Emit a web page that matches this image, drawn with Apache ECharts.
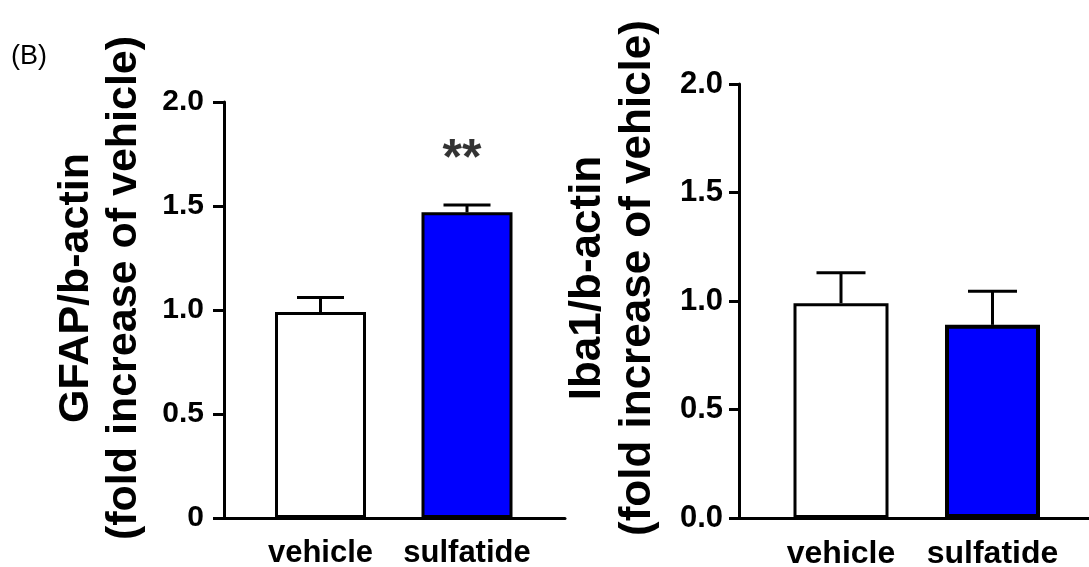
<!DOCTYPE html>
<html>
<head>
<meta charset="utf-8">
<script src="https://cdn.jsdelivr.net/npm/echarts@6/dist/echarts.min.js"></script>
<style>
    html, body { margin: 0; padding: 0; background: #ffffff; }
    #chart { width: 1089px; height: 567px; }
</style>
</head>
<body>
<div id="chart"></div>
<script>
    // data
    var categories = ['vehicle', 'sulfatide'];
    var barColors = ['#ffffff', '#0000ff'];
    var gfapMean = [0.99, 1.47];
    var gfapSem = [0.07, 0.035];
    var gfapSig = ['', '**'];
    var iba1Mean = [0.99, 0.89];
    var iba1Sem = [0.14, 0.155];
    var yMin = 0, yMax = 2, yStep = 0.5;

    var FONT = '"Liberation Sans", Arial, sans-serif';

    // error bar: whisker up from the bar top plus a cap
    function errorBar(capW) {
        return function (params, api) {
            var x = api.value(0);
            var m = api.value(1);
            var e = api.value(2);
            var p0 = api.coord([x, m]);
            var p1 = api.coord([x, m + e]);
            var st = { stroke: '#000', lineWidth: 3 };
            return {
                type: 'group',
                children: [
                    { type: 'line', shape: { x1: p0[0], y1: p0[1], x2: p1[0], y2: p1[1] }, style: st },
                    { type: 'line', shape: { x1: p1[0] - capW / 2, y1: p1[1], x2: p1[0] + capW / 2, y2: p1[1] }, style: st }
                ]
            };
        };
    }

    function barData(means, borders) {
        return means.map(function (v, i) {
            return { value: v, itemStyle: { color: barColors[i], borderColor: '#000', borderWidth: borders[i] } };
        });
    }

    var option = {
        backgroundColor: '#ffffff',
        animation: false,
        textStyle: { fontFamily: FONT },
        title: {
            text: '(B)', left: 6, top: 38,
            textStyle: { color: '#000', fontSize: 27, fontWeight: 'normal', fontFamily: FONT }
        },
        grid: [
            // axes frames
            { left: 224, right: 524, top: 102, bottom: 49, outerBoundsMode: 'none' },
            // bars
            { left: 247.25, right: 548.75, top: 102, bottom: 49, outerBoundsMode: 'none' },
            { left: 739, right: 0, top: 84, bottom: 49, outerBoundsMode: 'none' },
            { left: 765.25, right: 20.75, top: 84, bottom: 49, outerBoundsMode: 'none' }
        ],
        xAxis: [
            { gridIndex: 0, type: 'category', data: categories,
              axisLine: { lineStyle: { color: '#000', width: 3 } },
              axisTick: { show: false }, axisLabel: { show: false } },
            { gridIndex: 1, type: 'category', data: categories,
              axisLine: { show: false }, axisTick: { show: false },
              axisLabel: { interval: 0, color: '#000', fontSize: 31, fontWeight: 'bold', fontFamily: FONT, margin: 20 } },
            { gridIndex: 2, type: 'category', data: categories,
              axisLine: { lineStyle: { color: '#000', width: 3 } },
              axisTick: { show: false }, axisLabel: { show: false } },
            { gridIndex: 3, type: 'category', data: categories,
              axisLine: { show: false }, axisTick: { show: false },
              axisLabel: { interval: 0, color: '#000', fontSize: 32, fontWeight: 'bold', fontFamily: FONT, margin: 20 } }
        ],
        yAxis: [
            { gridIndex: 0, type: 'value', min: yMin, max: yMax, interval: yStep,
              name: 'GFAP/b-actin\n(fold increase of vehicle)',
              nameLocation: 'middle', nameRotate: 90, nameGap: 76,
              nameTextStyle: { color: '#000', fontSize: 43, fontWeight: 'bold', fontFamily: FONT, lineHeight: 48,
                  padding: [0, 0, 0, 44] },
              axisLine: { show: true, lineStyle: { color: '#000', width: 3 } },
              axisTick: { show: true, length: 11, lineStyle: { color: '#000', width: 3 } },
              splitLine: { show: false },
              axisLabel: { color: '#000', fontSize: 30, fontWeight: 'bold', fontFamily: FONT, margin: 20,
                  formatter: function (v) { return v === 0 ? '0' : v.toFixed(1); } } },
            { gridIndex: 1, type: 'value', min: yMin, max: yMax, interval: yStep, show: false },
            { gridIndex: 2, type: 'value', min: yMin, max: yMax, interval: yStep,
              name: 'Iba1/b-actin\n(fold increase of vehicle)',
              nameLocation: 'middle', nameRotate: 90, nameGap: 76,
              nameTextStyle: { color: '#000', fontSize: 44, fontWeight: 'bold', fontFamily: FONT, lineHeight: 50,
                  padding: [0, 0, 0, 46] },
              axisLine: { show: true, lineStyle: { color: '#000', width: 3 } },
              axisTick: { show: true, length: 10, lineStyle: { color: '#000', width: 3 } },
              splitLine: { show: false },
              axisLabel: { color: '#000', fontSize: 31, fontWeight: 'bold', fontFamily: FONT, margin: 16,
                  formatter: function (v) { return v.toFixed(1); } } },
            { gridIndex: 3, type: 'value', min: yMin, max: yMax, interval: yStep, show: false }
        ],
        series: [
            { type: 'bar', xAxisIndex: 1, yAxisIndex: 1, barWidth: 91,
              data: barData(gfapMean, [3, 3]) },
            { type: 'custom', xAxisIndex: 1, yAxisIndex: 1, renderItem: errorBar(47),
              data: categories.map(function (c, i) { return [i, gfapMean[i], gfapSem[i]]; }), z: 3 },
            { type: 'scatter', xAxisIndex: 1, yAxisIndex: 1, symbolSize: 0,
              data: categories.map(function (c, i) { return [i, 1.72, gfapSig[i]]; }),
              label: { show: true, position: 'inside', offset: [-5, 0], color: '#000', fontSize: 50,
                  fontWeight: 'bold', fontFamily: FONT,
                  formatter: function (p) { return p.value[2]; } } },
            { type: 'bar', xAxisIndex: 3, yAxisIndex: 3, barWidth: 95,
              data: barData(iba1Mean, [3, 4]) },
            { type: 'custom', xAxisIndex: 3, yAxisIndex: 3, renderItem: errorBar(49),
              data: categories.map(function (c, i) { return [i, iba1Mean[i], iba1Sem[i]]; }), z: 3 }
        ]
    };

    var chart = echarts.init(document.getElementById('chart'));
    chart.setOption(option);
</script>
</body>
</html>
